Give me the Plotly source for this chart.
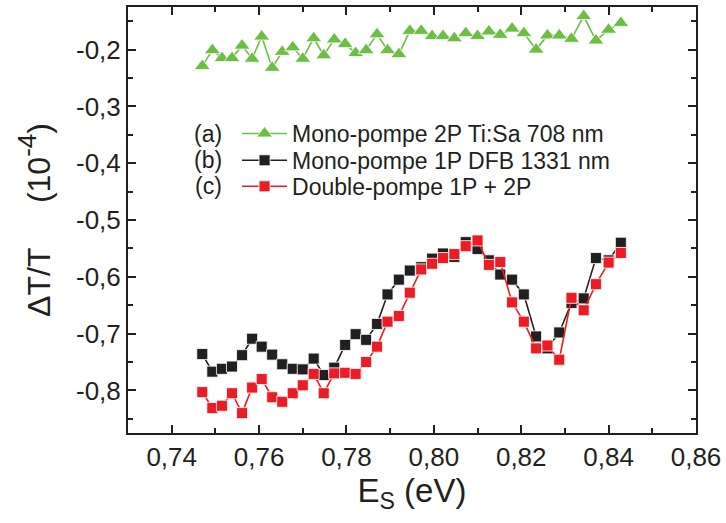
import plotly.graph_objects as go

energy = [0.7470, 0.7493, 0.7515, 0.7538, 0.7561, 0.7584, 0.7606, 0.7630, 0.7653, 0.7677,
          0.7700, 0.7725, 0.7748, 0.7772, 0.7797, 0.7821, 0.7845, 0.7870, 0.7894, 0.7920,
          0.7945, 0.7971, 0.7996, 0.8021, 0.8047, 0.8073, 0.8100, 0.8126, 0.8152, 0.8179,
          0.8206, 0.8234, 0.8260, 0.8287, 0.8315, 0.8343, 0.8371, 0.8400, 0.8428]

mono_2p = [-0.229, -0.201, -0.215, -0.215, -0.193, -0.216, -0.177, -0.232, -0.204, -0.196,
           -0.216, -0.180, -0.210, -0.182, -0.190, -0.206, -0.201, -0.173, -0.201, -0.208,
           -0.167, -0.167, -0.176, -0.176, -0.180, -0.171, -0.176, -0.168, -0.174, -0.163,
           -0.171, -0.200, -0.175, -0.175, -0.181, -0.141, -0.184, -0.165, -0.153]

mono_1p = [-0.736, -0.767, -0.762, -0.758, -0.738, -0.709, -0.723, -0.737, -0.754, -0.762,
           -0.763, -0.744, -0.773, -0.760, -0.720, -0.701, -0.711, -0.683, -0.631, -0.605,
           -0.589, -0.583, -0.568, -0.559, -0.565, -0.539, -0.551, -0.571, -0.596, -0.605,
           -0.631, -0.705, -0.726, -0.698, -0.646, -0.638, -0.567, -0.571, -0.540]

double_p = [-0.803, -0.831, -0.827, -0.805, -0.840, -0.795, -0.780, -0.812, -0.820, -0.805,
            -0.791, -0.771, -0.805, -0.770, -0.769, -0.771, -0.750, -0.723, -0.679, -0.669,
            -0.628, -0.587, -0.577, -0.567, -0.560, -0.546, -0.536, -0.579, -0.574, -0.645,
            -0.679, -0.726, -0.721, -0.746, -0.637, -0.659, -0.613, -0.575, -0.558]

names = ["Mono-pompe 2P Ti:Sa 708 nm", "Mono-pompe 1P DFB 1331 nm", "Double-pompe 1P + 2P"]
prefixes = ["(a)", "(b)", "(c)"]

x_tickvals = [0.74, 0.76, 0.78, 0.80, 0.82, 0.84, 0.86]
x_ticktext = ["0,74", "0,76", "0,78", "0,80", "0,82", "0,84", "0,86"]
y_tickvals = [-0.2, -0.3, -0.4, -0.5, -0.6, -0.7, -0.8]
y_ticktext = ["-0,2", "-0,3", "-0,4", "-0,5", "-0,6", "-0,7", "-0,8"]

GREEN = "#6cbe45"
BLACK = "#231f20"
RED = "#ed1c24"
FONT = "Liberation Sans, Arial, sans-serif"

fig = go.Figure()
fig.add_trace(go.Scatter(x=energy, y=mono_2p, mode="lines+markers", name=names[0],
                         legend="legend",
                         line=dict(color=GREEN, width=1.6),
                         marker=dict(symbol="triangle-up", size=14, color=GREEN,
                                     line=dict(color="white", width=0.8))))
fig.add_trace(go.Scatter(x=energy, y=mono_1p, mode="lines+markers", name=names[1],
                         legend="legend2",
                         line=dict(color=BLACK, width=1.6),
                         marker=dict(symbol="square", size=11, color=BLACK,
                                     line=dict(color="white", width=0.8))))
fig.add_trace(go.Scatter(x=energy, y=double_p, mode="lines+markers", name=names[2],
                         legend="legend3",
                         line=dict(color=RED, width=1.6),
                         marker=dict(symbol="square", size=11, color=RED,
                                     line=dict(color="white", width=0.8))))

axis_common = dict(showline=True, linecolor=BLACK, linewidth=2, mirror="ticks",
                   ticks="inside", ticklen=8, tickwidth=1.5, tickcolor=BLACK,
                   showgrid=False, zeroline=False,
                   tickfont=dict(family=FONT, size=26, color=BLACK))

fig.update_xaxes(range=[0.73, 0.86], tickvals=x_tickvals, ticktext=x_ticktext,
                 minor=dict(ticks="inside", ticklen=5, tickwidth=1.5, tickcolor=BLACK, dtick=0.01,
                            tick0=0.73, showgrid=False),
                 title=dict(text="E<sub>S</sub> (eV)", font=dict(family=FONT, size=33, color=BLACK),
                            standoff=6),
                 **axis_common)
fig.update_yaxes(range=[-0.875, -0.125], tickvals=y_tickvals, ticktext=y_ticktext,
                 minor=dict(ticks="inside", ticklen=5, tickwidth=1.5, tickcolor=BLACK, dtick=0.05,
                            tick0=-0.85, showgrid=False),
                 title=dict(text="ΔT/T\u00a0\u00a0\u00a0\u00a0\u00a0(10<sup><span style='font-size:26px'>-4</span></sup>)"
                                 "\u00a0\u00a0\u00a0",
                            font=dict(family=FONT, size=32, color=BLACK),
                            standoff=16),
                 **axis_common)

row_y = [0.703, 0.640, 0.579]
for p, yy in zip(prefixes, row_y):
    fig.add_annotation(text=p, xref="paper", yref="paper", x=0.141, y=yy,
                       xanchor="center", yanchor="middle", showarrow=False,
                       font=dict(family=FONT, size=23, color=BLACK))

leg_common = dict(x=0.192, xanchor="left", yanchor="middle", bgcolor="rgba(0,0,0,0)",
                  font=dict(family=FONT, size=23, color=BLACK), itemwidth=45)

fig.update_layout(
    width=726, height=523,
    margin=dict(l=128, r=30, t=5, b=90),
    paper_bgcolor="white", plot_bgcolor="white",
    showlegend=True,
    legend=dict(y=row_y[0], **leg_common),
    legend2=dict(y=row_y[1], **leg_common),
    legend3=dict(y=row_y[2], **leg_common),
)

fig.write_html("out.html", config={"displayModeBar": False},
               post_script="document.body.style.margin='0';")
